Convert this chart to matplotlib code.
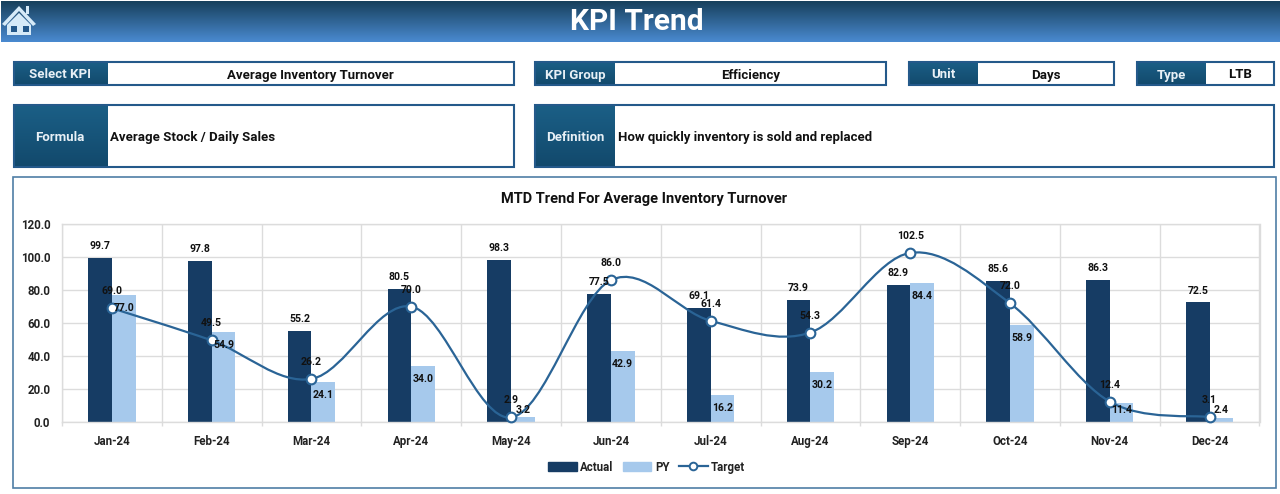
import numpy as np
from matplotlib import pyplot as plt
from matplotlib.patches import Rectangle, Polygon, Patch
from matplotlib.path import Path
from matplotlib.patches import PathPatch
from matplotlib.lines import Line2D

plt.rcParams['font.family'] = ['Roboto', 'DejaVu Sans']

W, H = 1280, 494
DARK = '#163c64'
LIGHT = '#a6c9ec'
LINE = '#2a6496'
EDGE = '#24598a'
GRID = '#dcdcdc'

months = ['Jan-24', 'Feb-24', 'Mar-24', 'Apr-24', 'May-24', 'Jun-24',
          'Jul-24', 'Aug-24', 'Sep-24', 'Oct-24', 'Nov-24', 'Dec-24']
actual = [99.7, 97.8, 55.2, 80.5, 98.3, 77.5, 69.1, 73.9, 82.9, 85.6, 86.3, 72.5]
py = [77.0, 54.9, 24.1, 34.0, 3.2, 42.9, 16.2, 30.2, 84.4, 58.9, 11.4, 2.4]
target = [69.0, 49.5, 26.2, 70.0, 2.9, 86.0, 61.4, 54.3, 102.5, 72.0, 12.4, 3.1]
y_ticks = [0, 20, 40, 60, 80, 100, 120]

fig = plt.figure(figsize=(W / 100, H / 100), dpi=100)

# page layer, everything here is in image pixels
bg = fig.add_axes([0, 0, 1, 1])
bg.set_xlim(0, W)
bg.set_ylim(H, 0)
bg.axis('off')


def gradient(x0, y0, x1, y1, top, bottom):
    c0 = np.array(plt.matplotlib.colors.to_rgb(top))
    c1 = np.array(plt.matplotlib.colors.to_rgb(bottom))
    t = np.linspace(0, 1, 64)[:, None, None]
    img = c0[None, None, :] * (1 - t) + c1[None, None, :] * t
    bg.imshow(img, extent=(x0, x1, y1, y0), aspect='auto', zorder=1)
    bg.set_xlim(0, W)
    bg.set_ylim(H, 0)


def panel(x0, y0, x1, y1, split, label, value, align='center'):
    gradient(x0, y0, split, y1, '#1b5f86', '#12496c')
    bg.add_patch(Rectangle((x0, y0), x1 - x0, y1 - y0, fc='none', ec=EDGE, lw=1.5, zorder=3))
    bg.text((x0 + split) / 2, (y0 + y1) / 2, label, color='#e8f0f6', fontsize=9.5,
            fontweight='bold', ha='center', va='center_baseline', zorder=4)
    if align == 'center':
        bg.text((split + x1) / 2, (y0 + y1) / 2, value, color='#111111', fontsize=9.5,
                fontweight='bold', ha='center', va='center_baseline', zorder=4)
    else:
        bg.text(split + 3, (y0 + y1) / 2, value, color='#111111', fontsize=9.5,
                fontweight='bold', ha='left', va='center_baseline', zorder=4)


# header band
gradient(1, 1, 1280, 42, '#17405c', '#4a8ad0')
bg.text(637, 21.5, 'KPI Trend', color='white', fontsize=21.5, fontweight='bold',
        ha='center', va='center', zorder=4)

# home icon
roof = '#d6eaf8'
bg.add_patch(Polygon([(2, 24), (19, 6), (36, 24), (33, 26), (19, 11), (5, 26)], fc=roof, ec='none', zorder=4))
bg.add_patch(Rectangle((26, 6), 3, 8, fc=roof, ec='none', zorder=4))
bg.add_patch(Polygon([(7, 25), (19, 13), (31, 25), (31, 35), (7, 35)], fc=roof, ec='none', zorder=4))
bg.add_patch(Rectangle((10.5, 26), 6, 6, fc='#24588a', ec='none', zorder=5))
bg.add_patch(Rectangle((23, 26), 6, 6, fc='#24588a', ec='none', zorder=5))

panel(13.5, 62, 514, 85, 107, 'Select KPI', 'Average Inventory Turnover')
panel(535, 62, 886, 85, 615, 'KPI Group', 'Efficiency')
panel(909, 62, 1113.5, 85, 978, 'Unit', 'Days')
panel(1137, 62, 1273.5, 85, 1206, 'Type', 'LTB')
panel(13.5, 105, 514, 167, 107, 'Formula', 'Average Stock / Daily Sales', align='left')
panel(535, 105, 1273.5, 167, 615, 'Definition', 'How quickly inventory is sold and replaced', align='left')

# chart frame
bg.add_patch(Rectangle((13, 176.5), 1262.5, 311.5, fc='white', ec='#4f7ea6', lw=1.2, zorder=2))
bg.text(644, 199, 'MTD Trend For Average Inventory Turnover', color='#111111', fontsize=10.5,
        fontweight='bold', ha='center', va='center', zorder=4)

# chart proper
left, right, top, bottom = 62, 1259.5, 224, 422.2
ax = fig.add_axes([left / W, 1 - bottom / H, (right - left) / W, (bottom - top) / H])
ax.patch.set_alpha(0)
x = np.arange(len(months))
bar_w = 0.237
ax.bar(x - bar_w / 2, actual, bar_w, color=DARK, zorder=2)
ax.bar(x + bar_w / 2, py, bar_w, color=LIGHT, zorder=2)

# Excel style smoothed line, bezier segments through the target values
t = np.array(target, dtype=float)
verts = [(x[0], t[0])]
codes = [Path.MOVETO]
for i in range(len(t) - 1):
    prev_i = max(i - 1, 0)
    next_i = min(i + 2, len(t) - 1)
    verts.append((x[i] + (x[i + 1] - x[prev_i]) / 6, t[i] + (t[i + 1] - t[prev_i]) / 6))
    verts.append((x[i + 1] - (x[next_i] - x[i]) / 6, t[i + 1] - (t[next_i] - t[i]) / 6))
    verts.append((x[i + 1], t[i + 1]))
    codes += [Path.CURVE4] * 3
ax.add_patch(PathPatch(Path(verts, codes), fc='none', ec=LINE, lw=1.6, zorder=3, clip_on=False))
ax.plot(x, t, ls='none', marker='o', ms=7, mfc='white', mec=LINE, mew=1.5, zorder=4, clip_on=False)

label_style = dict(color='#111111', fontsize=7.6, fontweight='bold', ha='center', va='center', zorder=5)
for i in x:
    ax.annotate(f'{actual[i]:.1f}', (i - bar_w / 2, actual[i]), xytext=(0, 8.6),
                textcoords='offset points', **label_style)
    # inside-end labels stop moving down near the axis, short bars get them above
    ax.annotate(f'{py[i]:.1f}', (i + bar_w / 2, max(py[i], 15.5)), xytext=(0, -9.4),
                textcoords='offset points', **label_style)
    ax.annotate(f'{target[i]:.1f}', (i, target[i]), xytext=(0, 12.2),
                textcoords='offset points', **label_style)

ax.set_xlim(-0.5, len(months) - 0.5)
ax.set_ylim(0, 120)
ax.set_yticks(y_ticks)
ax.set_yticklabels([f'{v:.1f}' for v in y_ticks], fontsize=8.3, fontweight='bold', color='#222222')
ax.set_xticks(x)
ax.set_xticklabels(months, fontsize=8.3, fontweight='bold', color='#222222')
ax.set_xticks(np.arange(-0.5, len(months)), minor=True)
ax.tick_params(axis='x', which='major', length=0, pad=9)
ax.tick_params(axis='x', which='minor', length=3, color=GRID, width=1)
ax.tick_params(axis='y', length=0, pad=8.5)
ax.grid(True, axis='y', color=GRID, lw=1, zorder=0)
ax.grid(True, axis='x', which='minor', color=GRID, lw=1, zorder=0)
ax.set_axisbelow(True)
for side in ax.spines:
    ax.spines[side].set_color(GRID)
    ax.spines[side].set_linewidth(1)

handles = [Patch(color=DARK, label='Actual'), Patch(color=LIGHT, label='PY'),
           Line2D([], [], color=LINE, lw=1.6, marker='o', ms=5.5, mfc='white', mec=LINE, mew=1.4, label='Target')]
leg = ax.legend(handles=handles, loc='center', bbox_to_anchor=(646.5 / W, 1 - 467 / H),
                bbox_transform=fig.transFigure, ncol=3, frameon=False, fontsize=8.3,
                handlelength=2.5, columnspacing=0.8, handletextpad=0.3, borderpad=0)
for txt in leg.get_texts():
    txt.set_fontweight('bold')
    txt.set_color('#222222')

fig.savefig('out.png', dpi=100)
